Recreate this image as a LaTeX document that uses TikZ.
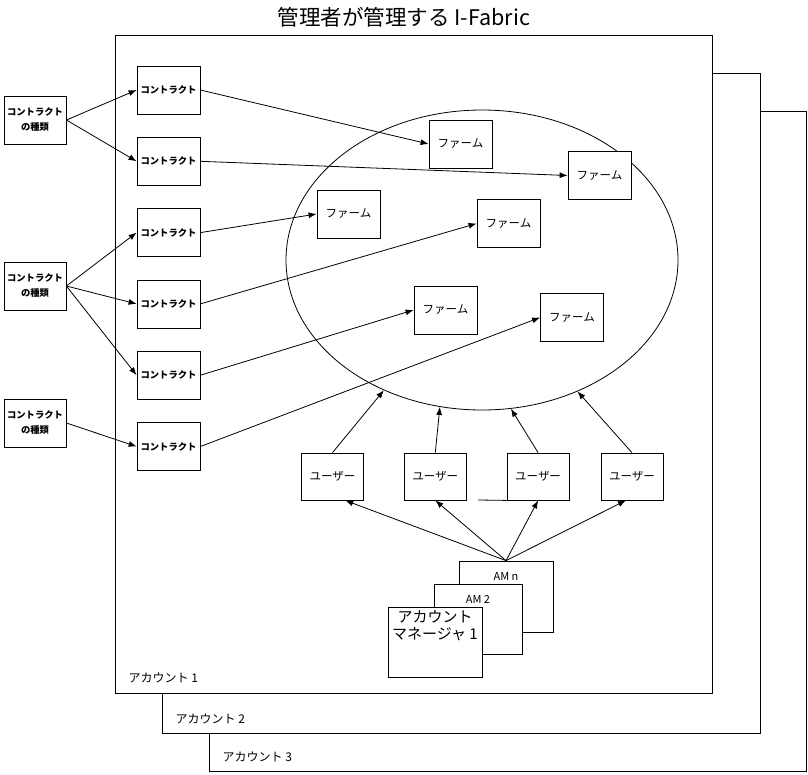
\documentclass[tikz,border=0pt]{standalone}
\usepackage{fontspec}
\setmainfont{Noto Sans CJK JP}
\usetikzlibrary{arrows.meta, positioning, shapes.geometric}

\begin{document}
\begin{tikzpicture}[x=1pt, y=-1pt, line width=0.8pt,
  node distance=22.5pt and 40pt,
  tipo/.style={rectangle, draw, fill=white, minimum width=62pt, minimum height=48pt,
               inner sep=0pt, align=center, font=\fontsize{9.3}{15}\selectfont\bfseries},
  kbox/.style={rectangle, draw, fill=white, minimum width=63pt, minimum height=48pt, inner sep=0pt},
  contrato/.style={kbox, font=\fontsize{9.3}{11}\selectfont\bfseries},
  farm/.style={kbox, font=\fontsize{11.5}{13}\selectfont},
  usuario/.style={kbox, minimum width=62pt, minimum height=47pt, font=\fontsize{11.5}{13}\selectfont},
  am/.style={rectangle, draw, fill=white, inner sep=0pt},
  cuenta/.style={anchor=west, font=\fontsize{12}{14}\selectfont},
  arrow/.style={-{Latex[length=8pt, width=6pt]}}
]
\useasboundingbox (0,0) rectangle (808,774);

% タイトル
\node[font=\fontsize{21.5}{24}\selectfont] (titulo) at (404,17) {管理者が管理する I-Fabric};

% アカウント（重ねた枠）
\draw[fill=white] (209,111) rectangle (806,771);
\draw[fill=white] (162,73) rectangle (760,733);
\draw[fill=white, line width=1pt] (115,35) rectangle (712,693);
\node[cuenta] (a3) at (219,757) {アカウント 3};
\node[cuenta] (a2) at (172,719) {アカウント 2};
\node[cuenta] (a1) at (125,678) {アカウント 1};

% ファームの集まり
\node[draw, ellipse, minimum width=392pt, minimum height=300pt, inner sep=0pt] (pool) at (482,260) {};

% コントラクトの種類
\node[tipo] (t1) at (35,120) {コントラクト\\の種類};
\node[tipo] (t2) at (35,286) {コントラクト\\の種類};
\node[tipo] (t3) at (35,423) {コントラクト\\の種類};

% コントラクト
\node[contrato] (c1) at (168.5,90) {コントラクト};
\node[contrato, below=of c1] (c2) {コントラクト};
\node[contrato, below=of c2] (c3) {コントラクト};
\node[contrato, below=of c3] (c4) {コントラクト};
\node[contrato, below=of c4] (c5) {コントラクト};
\node[contrato, below=of c5] (c6) {コントラクト};

% ファーム
\node[farm] (f1) at (460.5,144) {ファーム};
\node[farm] (f2) at (599.5,175.5) {ファーム};
\node[farm] (f3) at (348.5,214) {ファーム};
\node[farm] (f4) at (508.5,223.5) {ファーム};
\node[farm] (f5) at (445.5,310) {ファーム};
\node[farm] (f6) at (572,317.5) {ファーム};

% ユーザー
\node[usuario] (u1) at (332.5,476.5) {ユーザー};
\node[usuario, right=of u1] (u2) {ユーザー};
\node[usuario, right=of u2] (u3) {ユーザー};
\node[usuario, right=31pt of u3] (u4) {ユーザー};
\coordinate (tick) at (478,500);
\draw (tick) -- (u3.south west);

% アカウントマネージャ
\node[am, minimum width=94pt, minimum height=71pt,
      label={[anchor=north, yshift=-8pt, font=\fontsize{11}{13}\selectfont]north:AM n}] (amn) at (506,596.5) {};
\node[am, minimum width=88pt, minimum height=70pt,
      label={[anchor=north, yshift=-8pt, font=\fontsize{11}{13}\selectfont]north:AM 2}] (am2) at (478,619) {};
\node[am, minimum width=94pt, minimum height=70pt,
      label={[anchor=north, yshift=-3pt, inner sep=0pt, align=center,
              font=\fontsize{15}{17}\selectfont]north:アカウント\\マネージャ 1}] (am1) at (435,642) {};

% 種類→コントラクト
\draw[arrow] (t1.east) -- (c1.west);
\draw[arrow] (t1.east) -- (c2.west);
\draw[arrow] (t2.east) -- (c3.west);
\draw[arrow] (t2.east) -- (c4.west);
\draw[arrow] (t2.east) -- (c5.west);
\draw[arrow] (t3.east) -- (c6.west);

% コントラクト→ファーム
\draw[arrow] (c1.east) -- (f1.west);
\draw[arrow] (c2.east) -- (f2.west);
\draw[arrow] (c3.east) -- (f3.west);
\draw[arrow] (c4.east) -- (f4.west);
\draw[arrow] (c5.east) -- (f5.west);
\draw[arrow] (c6.east) -- (f6.west);

% ユーザー→ファームの集まり
\draw[arrow] (u1.north) -- (pool.233);
\draw[arrow] (u2.north) -- (pool.254);
\draw[arrow] (u3.north) -- (pool.281);
\draw[arrow] (u4.north) -- (pool.306);

% マネージャ→ユーザー
\draw[arrow] (amn.north) -- (u1.-62);
\draw[arrow] (amn.north) -- (u2.south);
\draw[arrow] (amn.north) -- (u3.south);
\draw[arrow] (amn.north) -- (u4.-104);

\end{tikzpicture}
\end{document}
